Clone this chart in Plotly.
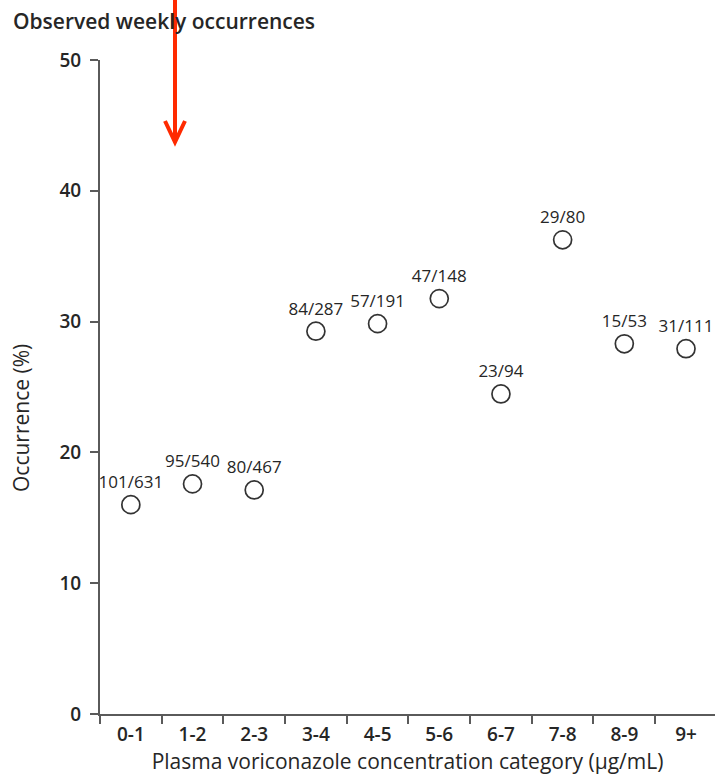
import plotly.graph_objects as go

# Concentration categories (µg/mL) and observed weekly counts
categories = ["0-1", "1-2", "2-3", "3-4", "4-5", "5-6", "6-7", "7-8", "8-9", "9+"]
events = [101, 95, 80, 84, 57, 47, 23, 29, 15, 31]
totals = [631, 540, 467, 287, 191, 148, 94, 80, 53, 111]

occurrence_pct = [100.0 * e / t for e, t in zip(events, totals)]
point_labels = [f"{e}/{t}" for e, t in zip(events, totals)]

FONT = "Open Sans"
INK = "#262626"
AXIS = "#5a5a5a"

W, H = 715, 780
ML, MR, MT, MB = 100, 0, 60, 66
plot_w = W - ML - MR
plot_h = H - MT - MB


def px_x(x):
    return (x - ML) / plot_w


def px_y(y):
    return (H - MB - y) / plot_h


fig = go.Figure()
fig.add_trace(go.Scatter(
    x=categories,
    y=occurrence_pct,
    mode="markers+text",
    text=point_labels,
    textposition="top center",
    textfont=dict(family=FONT, size=17, color=INK),
    marker=dict(symbol="circle", size=18, color="white",
                line=dict(color="#333333", width=1.7)),
    cliponaxis=False,
    showlegend=False,
))

fig.update_xaxes(
    type="category",
    range=[-0.5, 9.47],
    showline=True, linecolor=AXIS, linewidth=2,
    ticks="outside", tickson="boundaries", ticklen=8, tickwidth=2, tickcolor=AXIS,
    tickfont=dict(family=FONT, size=19, color=INK, weight=600),
    ticklabelstandoff=2,
    showgrid=False, zeroline=False,
    title=dict(text="Plasma voriconazole concentration category (µg/mL)",
               font=dict(family=FONT, size=21, color=INK, weight=500), standoff=6),
)
fig.update_yaxes(
    range=[0, 50],
    tickvals=[0, 10, 20, 30, 40, 50],
    showline=True, linecolor=AXIS, linewidth=2,
    ticks="outside", ticklen=8, tickwidth=2, tickcolor=AXIS,
    tickfont=dict(family=FONT, size=19, color=INK, weight=600),
    ticklabelstandoff=5,
    showgrid=False, zeroline=False,
)

# Heading and rotated y-axis title
fig.add_annotation(
    text="Observed weekly occurrences", xref="paper", yref="paper",
    x=px_x(11), y=px_y(21), xanchor="left", yanchor="middle",
    showarrow=False, font=dict(family=FONT, size=21, color=INK, weight=600),
)
fig.add_annotation(
    text="Occurrence (%)", xref="paper", yref="paper",
    x=px_x(21), y=px_y(418), xanchor="center", yanchor="middle",
    textangle=-90, showarrow=False, font=dict(family=FONT, size=21, color=INK, weight=500),
)

# Red pointer arrow
ax_x = 175
red = "#ff2a00"
fig.add_shape(type="line", xref="paper", yref="paper",
              x0=px_x(ax_x), y0=px_y(0), x1=px_x(ax_x), y1=px_y(141),
              line=dict(color=red, width=4))
fig.add_shape(type="path", xref="paper", yref="paper",
              path=(f"M {px_x(ax_x - 10)},{px_y(121)} L {px_x(ax_x)},{px_y(142)} "
                    f"L {px_x(ax_x + 10)},{px_y(121)}"),
              line=dict(color=red, width=4))

fig.update_layout(
    width=W, height=H,
    margin=dict(l=ML, r=MR, t=MT, b=MB),
    paper_bgcolor="white", plot_bgcolor="white",
    font=dict(family=FONT, color=INK),
)

fig.write_html("out.html")
